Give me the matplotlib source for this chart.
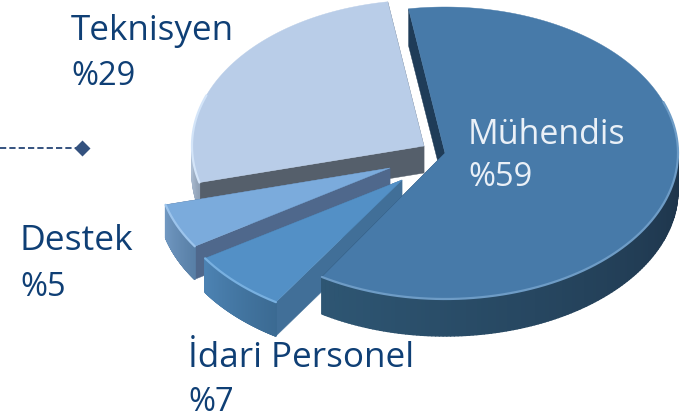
import numpy as np
import matplotlib
matplotlib.use("Agg")
import matplotlib.pyplot as plt
from matplotlib.patches import Polygon
from matplotlib.collections import PolyCollection

categories = ["Mühendis", "İdari Personel", "Destek", "Teknisyen"]
values = [59, 7, 5, 29]

# per-slice projected geometry: apex x/y, radii, first angle, sweep factor, wall depth
apex_x = [445, 402, 390, 424]
apex_y = [153, 180, 168, 146]
rad_a = [233, 234, 232, 232]
rad_b = [146, 145, 145, 146]
first_angle = [99, 237.4, 212.7, 194.5]
sweep_fit = [1.04, 0.98, 1.0, 0.915]
depth = [37, 34, 33, 27]
top_col = ["#477AA9", "#5390C6", "#7BABDC", "#B9CDE8"]
bevel_col = ["#6E9CC6", "#78B0E0", "#9CC4EC", "#D3E4F8"]
rim_from = ["#2E5673", "#4C82B2", "#7097C0", "#AEBFD4"]
rim_to = ["#1D3349", "#3B6A92", "#587FA6", "#8FA0B5"]
wall_col = ["#1F3C58", "#416F98", "#4F688C", "#555F6B"]
text_col = "#0F3F75"

label_x = [468, 188, 20, 71]
name_y = [144, 367, 250, 40]
pct_y = [186, 411, 296, 85]
name_size = [24.5, 25.2, 25.5, 25.2]
pct_size = [23.5, 23.5, 23.5, 23.5]
label_col = ["#EAF0F7", text_col, text_col, text_col]

fig = plt.figure(figsize=(6.85, 4.18), dpi=100)
ax = fig.add_axes([0, 0, 1, 1])
ax.set_xlim(0, 685)
ax.set_ylim(418, 0)
ax.axis("off")


def pts(i, t):
    t = np.radians(t)
    return apex_x[i] + rad_a[i] * np.cos(t), apex_y[i] - rad_b[i] * np.sin(t)


def hex2rgb(c):
    return np.array(matplotlib.colors.to_rgb(c))


for i in [3, 2, 1, 0]:
    start = first_angle[i]
    end = start - values[i] * 3.6 * sweep_fit[i]
    t = np.linspace(start, end, 240)
    x, y = pts(i, t)
    d = depth[i]
    # radial walls
    for tt in (start, end):
        px, py = pts(i, tt)
        ax.add_patch(Polygon([(apex_x[i], apex_y[i]), (px, py), (px, py + d),
                              (apex_x[i], apex_y[i] + d)], closed=True,
                             fc=wall_col[i], ec=wall_col[i], lw=0.3, zorder=i * -3 + 10))
    # outer rim wall (front part only), shaded along the arc
    s = np.sin(np.radians(t))
    vis = s < 0.02
    xv, yv = x[vis], y[vis]
    if len(xv) > 1:
        polys, cols = [], []
        for k in range(len(xv) - 1):
            polys.append([(xv[k], yv[k]), (xv[k + 1], yv[k + 1]),
                          (xv[k + 1], yv[k + 1] + d), (xv[k], yv[k] + d)])
            f = k / max(len(xv) - 2, 1)
            # colour runs from the left end of the arc to the right end
            g = f if xv[0] < xv[-1] else 1 - f
            cols.append(hex2rgb(rim_from[i]) * (1 - g) + hex2rgb(rim_to[i]) * g)
        ax.add_collection(PolyCollection(polys, facecolors=cols, edgecolors=cols,
                                         linewidths=1.0, zorder=i * -3 + 10.5))
    # top face
    ax.add_patch(Polygon(np.r_[[[apex_x[i], apex_y[i]]], np.c_[x, y]], closed=True,
                         fc=top_col[i], ec=top_col[i], lw=0.3, zorder=i * -3 + 11))
    # bevel highlight only on the near side of the rim
    near = s < 0.35
    ax.plot(x[near], y[near], color=bevel_col[i], lw=1.6, zorder=i * -3 + 11.5,
            solid_capstyle="round")

font = "Open Sans"
for i in range(len(categories)):
    ax.text(label_x[i], name_y[i], categories[i], family=font, fontsize=name_size[i],
            color=label_col[i], va="baseline", ha="left", zorder=30)
    ax.text(label_x[i], pct_y[i], f"%{values[i]}", family=font, fontsize=pct_size[i],
            color=label_col[i], va="baseline", ha="left", zorder=30)

ax.plot([0, 78], [148, 148], color="#34527F", lw=1.4, ls=(0, (3.2, 1.6)), zorder=20)
ax.plot([82], [148], marker="D", ms=8, color="#34527F", mec="none", zorder=21)

fig.savefig("out.png", dpi=100)
